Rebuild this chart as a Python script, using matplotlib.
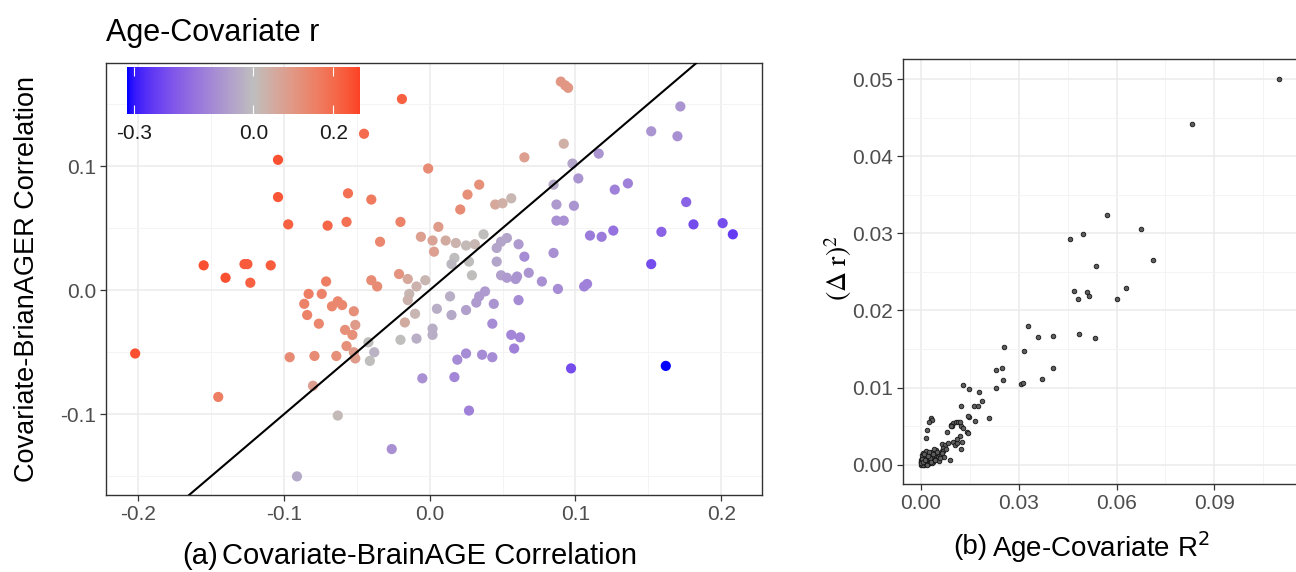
"""
Age-Covariate r: BrainAGE vs BrainAGER correlations (a) and squared change vs R^2 (b).
"""
import numpy as np
import matplotlib
matplotlib.use("Agg")
import matplotlib.pyplot as plt
from matplotlib.colors import ListedColormap, Normalize, to_rgb
from matplotlib.ticker import MultipleLocator

plt.rcParams["font.family"] = ["Liberation Sans", "DejaVu Sans"]
plt.rcParams["axes.unicode_minus"] = False

# ── Panel (a) data: covariate correlations with BrainAGE / BrainAGER, coloured by age r ──
brainage_r = [
    -0.019, -0.045, -0.104, -0.001, -0.104, -0.056, -0.040, -0.097, -0.070, -0.057,
    -0.020, -0.034, 0.034, 0.026, 0.021, 0.006, -0.006, 0.002, 0.011, 0.018,
    0.003, 0.025, 0.031, 0.037, 0.045, 0.050, 0.056, 0.065, 0.092, 0.090,
    0.093, 0.095, 0.098, 0.116, 0.102, 0.085, 0.087, 0.099, 0.087, 0.092,
    0.127, 0.136, 0.152, 0.172, 0.170, 0.176, 0.181, 0.201, 0.208, 0.159,
    0.126, 0.118, 0.110, 0.152, 0.085, 0.065, 0.061, 0.053, 0.049, 0.046,
    0.046, 0.027, 0.017, 0.015, 0.029, 0.049, 0.053, 0.060, 0.059, 0.068,
    0.077, 0.088, 0.106, 0.108, 0.014, 0.038, 0.034, 0.032, 0.044, 0.061,
    0.005, 0.015, 0.025, 0.043, 0.056, 0.062, 0.058, -0.020, -0.009, 0.002,
    0.002, 0.025, 0.019, 0.036, 0.043, -0.005, 0.017, 0.097, 0.162, 0.027,
    -0.026, -0.155, -0.127, -0.125, -0.109, -0.140, -0.123, -0.202, -0.145, -0.071,
    -0.083, -0.086, -0.084, -0.074, -0.067, -0.063, -0.060, -0.076, -0.052, -0.051,
    -0.058, -0.053, -0.057, -0.052, -0.051, -0.096, -0.079, -0.064, -0.080, -0.063,
    -0.091, -0.040, -0.036, -0.021, -0.015, -0.003, -0.009, -0.014, -0.015, -0.010,
    -0.017, -0.042, -0.038, -0.041,
]
brainager_r = [
    0.154, 0.126, 0.105, 0.098, 0.075, 0.078, 0.073, 0.053, 0.052, 0.055,
    0.055, 0.039, 0.085, 0.077, 0.065, 0.051, 0.043, 0.040, 0.040, 0.038,
    0.031, 0.036, 0.037, 0.045, 0.069, 0.070, 0.074, 0.107, 0.118, 0.168,
    0.165, 0.163, 0.102, 0.110, 0.090, 0.085, 0.069, 0.068, 0.056, 0.056,
    0.081, 0.086, 0.128, 0.148, 0.124, 0.071, 0.053, 0.054, 0.045, 0.047,
    0.048, 0.043, 0.044, 0.021, 0.030, 0.027, 0.037, 0.042, 0.039, 0.034,
    0.023, 0.023, 0.026, 0.021, 0.012, 0.012, 0.010, 0.011, 0.009, 0.014,
    0.007, 0.001, 0.003, 0.005, -0.005, -0.001, -0.005, -0.010, -0.011, -0.008,
    -0.015, -0.020, -0.016, -0.027, -0.036, -0.038, -0.047, -0.040, -0.039, -0.036,
    -0.031, -0.051, -0.056, -0.052, -0.054, -0.071, -0.070, -0.063, -0.061, -0.097,
    -0.128, 0.020, 0.021, 0.021, 0.020, 0.010, 0.006, -0.051, -0.086, 0.007,
    -0.003, -0.011, -0.020, -0.003, -0.013, -0.009, -0.012, -0.027, -0.017, -0.028,
    -0.032, -0.036, -0.045, -0.050, -0.055, -0.054, -0.053, -0.053, -0.077, -0.101,
    -0.150, 0.008, 0.003, 0.013, 0.009, 0.008, 0.003, -0.003, -0.008, -0.019,
    -0.026, -0.042, -0.050, -0.057,
]
age_r = [
    0.22, 0.20, 0.25, 0.13, 0.24, 0.19, 0.17, 0.22, 0.21, 0.19,
    0.15, 0.14, 0.12, 0.12, 0.13, 0.09, 0.08, 0.07, 0.05, 0.03,
    0.08, 0.01, 0.02, 0.00, 0.06, 0.04, 0.02, 0.08, 0.04, 0.10,
    0.10, 0.10, -0.05, -0.08, -0.08, -0.04, -0.07, -0.08, -0.09, -0.09,
    -0.12, -0.12, -0.08, -0.08, -0.09, -0.18, -0.22, -0.22, -0.25, -0.18,
    -0.15, -0.13, -0.13, -0.22, -0.09, -0.10, -0.07, -0.05, -0.05, -0.05,
    -0.05, 0.00, 0.00, -0.01, 0.00, -0.06, -0.07, -0.08, -0.08, -0.08,
    -0.09, -0.10, -0.12, -0.12, -0.03, -0.07, -0.07, -0.07, -0.08, -0.10,
    -0.03, -0.04, -0.06, -0.10, -0.11, -0.11, -0.12, 0.00, -0.03, -0.03,
    -0.03, -0.10, -0.10, -0.10, -0.10, -0.09, -0.11, -0.22, -0.317, -0.12,
    -0.09, 0.25, 0.23, 0.23, 0.23, 0.25, 0.22, 0.25, 0.16, 0.16,
    0.16, 0.15, 0.15, 0.15, 0.14, 0.14, 0.14, 0.14, 0.12, 0.09,
    0.12, 0.12, 0.12, 0.09, 0.09, 0.13, 0.13, 0.12, 0.08, 0.01,
    -0.04, 0.13, 0.13, 0.11, 0.06, 0.02, 0.03, 0.02, 0.03, 0.02,
    0.05, 0.00, -0.02, 0.00,
]
age_r_limits = (-0.317, 0.267)          # colour scale range shown in the legend
legend_ticks = [-0.3, 0.0, 0.2]

# ── Panel (b) data: age-covariate R^2 vs squared change in r ──────────────────
rsq_spread = [
    0.1098, 0.0832, 0.0570, 0.0674, 0.0496, 0.0458, 0.0711, 0.0536, 0.0630, 0.0471,
    0.0510, 0.0516, 0.0483, 0.0601, 0.0485, 0.0533, 0.0405, 0.0405, 0.0330, 0.0359,
    0.0255, 0.0316, 0.0231, 0.0249, 0.0251, 0.0373, 0.0308, 0.0315, 0.0230, 0.0130,
    0.0148, 0.0179, 0.0187, 0.0123, 0.0162, 0.0175, 0.0210, 0.0167, 0.0147, 0.0031,
    0.0034, 0.0026, 0.0019, 0.0017, 0.0093, 0.0100, 0.0108, 0.0115, 0.0095, 0.0124,
    0.0129, 0.0143, 0.0145, 0.0120, 0.0124, 0.0065, 0.0075, 0.0085, 0.0100, 0.0105,
    0.0112, 0.0090, 0.0080, 0.0092, 0.0110, 0.0145, 0.0120, 0.0064, 0.0126, 0.0070,
]
drsq_spread = [
    0.0500, 0.0442, 0.0324, 0.0306, 0.0299, 0.0292, 0.0265, 0.0258, 0.0229, 0.0225,
    0.0224, 0.0219, 0.0215, 0.0215, 0.0170, 0.0164, 0.0167, 0.0126, 0.0180, 0.0165,
    0.0152, 0.0148, 0.0123, 0.0126, 0.0110, 0.0111, 0.0104, 0.0106, 0.0100, 0.0103,
    0.0098, 0.0094, 0.0083, 0.0076, 0.0076, 0.0076, 0.0061, 0.0057, 0.0062, 0.0060,
    0.0058, 0.0055, 0.0045, 0.0035, 0.0052, 0.0054, 0.0055, 0.0055, 0.0050, 0.0050,
    0.0048, 0.0043, 0.0041, 0.0037, 0.0020, 0.0027, 0.0025, 0.0028, 0.0030, 0.0025,
    0.0028, 0.0006, 0.0043, 0.0050, 0.0033, 0.0063, 0.0056, 0.0018, 0.0029, 0.0022,
]
rsq_cluster = [
    0.0001, 0.0003, 0.0005, 0.0002, 0.0008, 0.0010, 0.0004, 0.0012, 0.0015, 0.0007,
    0.0018, 0.0020, 0.0009, 0.0022, 0.0025, 0.0013, 0.0028, 0.0030, 0.0006, 0.0033,
    0.0036, 0.0011, 0.0040, 0.0016, 0.0044, 0.0048, 0.0019, 0.0052, 0.0024, 0.0057,
    0.0002, 0.0005, 0.0009, 0.0014, 0.0021, 0.0027, 0.0034, 0.0003, 0.0008, 0.0017,
    0.0026, 0.0038, 0.0046, 0.0062, 0.0068, 0.0001, 0.0006, 0.0012, 0.0023, 0.0031,
    0.0042, 0.0055, 0.0004, 0.0010, 0.0016, 0.0029, 0.0035, 0.0050, 0.0072, 0.0078,
    0.0000, 0.0007, 0.0013, 0.0019, 0.0024, 0.0032, 0.0039, 0.0045, 0.0058, 0.0065,
]
drsq_cluster = [
    0.0000, 0.0001, 0.0002, 0.0003, 0.0001, 0.0002, 0.0005, 0.0004, 0.0003, 0.0007,
    0.0006, 0.0002, 0.0009, 0.0005, 0.0008, 0.0001, 0.0004, 0.0011, 0.0003, 0.0007,
    0.0010, 0.0012, 0.0006, 0.0009, 0.0013, 0.0008, 0.0015, 0.0011, 0.0004, 0.0014,
    0.0006, 0.0009, 0.0000, 0.0010, 0.0013, 0.0002, 0.0016, 0.0012, 0.0015, 0.0018,
    0.0017, 0.0003, 0.0019, 0.0012, 0.0018, 0.0004, 0.0000, 0.0007, 0.0001, 0.0005,
    0.0021, 0.0005, 0.0008, 0.0014, 0.0001, 0.0009, 0.0002, 0.0016, 0.0010, 0.0021,
    0.0002, 0.0004, 0.0006, 0.0000, 0.0011, 0.0003, 0.0014, 0.0006, 0.0009, 0.0015,
]

# ── Diverging blue–grey–red palette interpolated in CIELAB (like gradient2) ──
M_XYZ = np.array([[0.4124564, 0.3575761, 0.1804375],
                  [0.2126729, 0.7151522, 0.0721750],
                  [0.0193339, 0.1191920, 0.9503041]])
WHITE = np.array([0.95047, 1.0, 1.08883])

def to_lab(col):
    rgb = np.array(to_rgb(col))
    lin = np.where(rgb <= 0.04045, rgb / 12.92, ((rgb + 0.055) / 1.055) ** 2.4)
    xyz = M_XYZ @ lin / WHITE
    f = np.where(xyz > 0.008856, np.cbrt(xyz), 7.787 * xyz + 16 / 116)
    return np.array([116 * f[1] - 16, 500 * (f[0] - f[1]), 200 * (f[1] - f[2])])

def from_lab(lab):
    L, a, b = lab[:, 0], lab[:, 1], lab[:, 2]
    fy = (L + 16) / 116
    f = np.stack([fy + a / 500, fy, fy - b / 200], axis=1)
    xyz = np.where(f ** 3 > 0.008856, f ** 3, (f - 16 / 116) / 7.787) * WHITE
    lin = np.clip(xyz @ np.linalg.inv(M_XYZ).T, 0, 1)
    rgb = np.where(lin <= 0.0031308, 12.92 * lin, 1.055 * lin ** (1 / 2.4) - 0.055)
    return np.clip(rgb, 0, 1)

lab_lo, lab_mid, lab_hi = to_lab("#0000FF"), to_lab("#BEBEBE"), to_lab("#FF0000")
t = np.linspace(0, 1, 256)[:, None]
labs = np.where(t < 0.5,
                lab_lo + (lab_mid - lab_lo) * (t / 0.5),
                lab_mid + (lab_hi - lab_mid) * ((t - 0.5) / 0.5))
cmap = ListedColormap(from_lab(labs))
lim = max(abs(age_r_limits[0]), abs(age_r_limits[1]))
norm = Normalize(-lim, lim)

# ── Figure layout in pixels ───────────────────────────────────────────────────
W, H = 1296, 572
fig = plt.figure(figsize=(W / 100, H / 100), dpi=100)
fig.patch.set_facecolor("white")

def fx(px):
    return px / W

def fy(py):
    return 1 - py / H

def style_axes(ax, major_x, major_y, minor_x, minor_y):
    ax.set_facecolor("white")
    ax.xaxis.set_major_locator(MultipleLocator(major_x))
    ax.yaxis.set_major_locator(MultipleLocator(major_y))
    ax.xaxis.set_minor_locator(MultipleLocator(minor_x))
    ax.yaxis.set_minor_locator(MultipleLocator(minor_y))
    ax.grid(which="major", color="#EBEBEB", lw=1.1)
    ax.grid(which="minor", color="#F3F3F3", lw=0.6)
    ax.set_axisbelow(True)
    for sp in ax.spines.values():
        sp.set_color("#333333")
        sp.set_linewidth(1.0)
    ax.tick_params(which="major", length=4, width=0.9, color="#333333",
                   labelsize=15, labelcolor="#4D4D4D", pad=3)
    ax.tick_params(which="minor", length=0)

# ── Panel (a) ─────────────────────────────────────────────────────────────────
ax = fig.add_axes([fx(106), fy(495), fx(762) - fx(106), fy(63) - fy(495)])
style_axes(ax, 0.1, 0.1, 0.05, 0.05)
ax.scatter(brainage_r, brainager_r, c=age_r, cmap=cmap, norm=norm,
           s=54, edgecolors="none", zorder=3)
ax.axline((0, 0), slope=1, color="black", lw=1.5, zorder=4)
ax.set_xlim(-0.222, 0.228)
ax.set_ylim(-0.165, 0.183)
ax.xaxis.set_major_formatter(lambda v, p: f"{v:.1f}")
ax.yaxis.set_major_formatter(lambda v, p: f"{v:.1f}")

# colour legend inside the panel
cax = fig.add_axes([fx(127), fy(114), fx(360) - fx(127), fy(67) - fy(114)])
bar = np.linspace(age_r_limits[0], age_r_limits[1], 300)[None, :]
cax.imshow(bar, extent=(age_r_limits[0], age_r_limits[1], 0, 1),
           aspect="auto", cmap=cmap, norm=norm)
cax.vlines(legend_ticks, 0, 0.2, color="white", lw=0.8)
cax.vlines(legend_ticks, 0.8, 1, color="white", lw=0.8)
cax.set_xlim(*age_r_limits)
cax.set_ylim(0, 1)
cax.set_yticks([])
cax.set_xticks(legend_ticks)
cax.set_xticklabels([f"{v:.1f}" for v in legend_ticks])
cax.tick_params(length=0, labelsize=15, labelcolor="#1A1A1A", pad=7)
for sp in cax.spines.values():
    sp.set_visible(False)

fig.text(fx(106), fy(33), "Age-Covariate r", fontsize=22, ha="left", va="center")
fig.text(fx(27), fy(279), "Covariate-BrianAGER Correlation", fontsize=19.5,
         rotation=90, ha="center", va="center")
fig.text(fx(430), fy(556), "Covariate-BrainAGE Correlation", fontsize=21,
         ha="center", va="center")
fig.text(fx(218), fy(556), "(a)", fontsize=21, ha="right", va="center")

# ── Panel (b) ─────────────────────────────────────────────────────────────────
bx = fig.add_axes([fx(903), fy(484), (1300 - 903) / W, fy(59) - fy(484)])
style_axes(bx, 0.03, 0.01, 0.015, 0.005)
bx.scatter(rsq_spread + rsq_cluster, drsq_spread + drsq_cluster,
           s=11, facecolors="#5E5E5E", edgecolors="#141414", linewidths=0.6,
           zorder=3)
bx.set_xlim(-0.0054, 0.1162)
bx.set_ylim(-0.0025, 0.0526)
bx.xaxis.set_major_formatter(lambda v, p: f"{v:.2f}")
bx.yaxis.set_major_formatter(lambda v, p: f"{v:.2f}")

fig.text(fx(1101), fy(547), r"Age-Covariate R$^2$", fontsize=20,
         ha="center", va="center")
fig.text(fx(987), fy(547), "(b)", fontsize=20, ha="right", va="center")
fig.text(fx(838), fy(268), r"$(\Delta\ \mathrm{r})^2$", fontsize=20,
         rotation=90, ha="center", va="center", math_fontfamily="stix")

fig.savefig("out.png", dpi=100, facecolor="white")
plt.close(fig)
